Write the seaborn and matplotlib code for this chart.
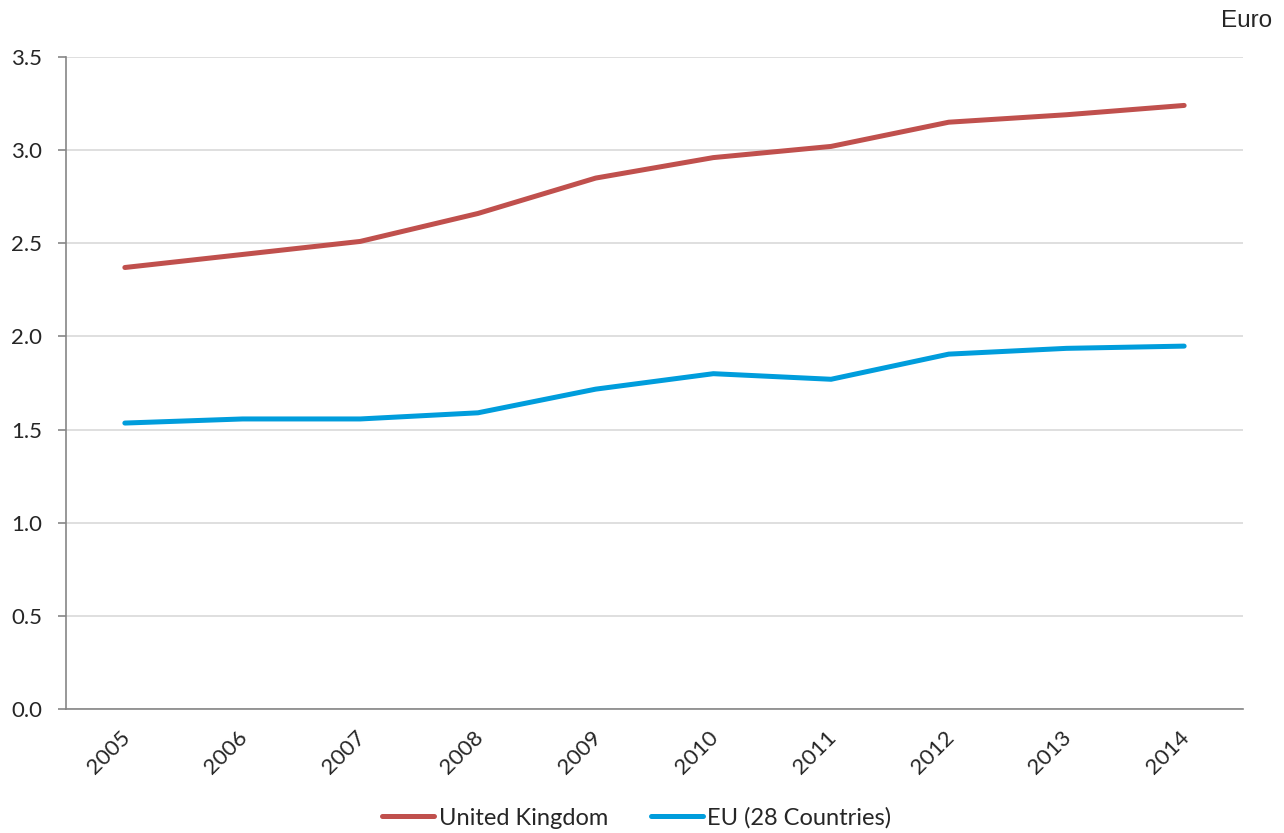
import matplotlib
matplotlib.use("Agg")
import matplotlib.pyplot as plt
import matplotlib.transforms as mtransforms
import numpy as np
import pandas as pd
import seaborn as sns

years = ["2005", "2006", "2007", "2008", "2009", "2010", "2011", "2012", "2013", "2014"]
uk = [2.37, 2.44, 2.51, 2.66, 2.85, 2.96, 3.02, 3.15, 3.19, 3.24]
eu = [1.535, 1.557, 1.557, 1.59, 1.717, 1.80, 1.77, 1.905, 1.936, 1.948]
series_names = ["United Kingdom", "EU (28 Countries)"]
colors = ["#C0504D", "#009DDC"]

df = pd.DataFrame({
    "year": years * 2,
    "value": uk + eu,
    "series": [series_names[0]] * len(years) + [series_names[1]] * len(years),
})

sns.set_theme(style="white")
plt.rcParams["font.family"] = ["Lato", "DejaVu Sans"]

fig = plt.figure(figsize=(12.84, 8.33), dpi=100)
ax = fig.add_axes([66 / 1284, 124 / 833, (1243 - 66) / 1284, (709 - 57) / 833])

sns.lineplot(data=df, x="year", y="value", hue="series", palette=colors,
             linewidth=3.6, ax=ax, sort=False, legend=True,
             solid_capstyle="round")

ax.set_xlim(-0.5, len(years) - 0.5)
ax.set_ylim(0, 3.5)
yt = np.arange(0, 3.51, 0.5)
ax.set_yticks(yt)
ax.set_yticklabels([f"{v:.1f}" for v in yt], fontsize=16)
ax.yaxis.grid(True, color="#D9D9D9", linewidth=1.2)
ax.set_axisbelow(True)

ax.set_xticks(range(len(years)))
ax.set_xticklabels(years, fontsize=16, rotation=45, ha="right", rotation_mode="anchor")
ax.set_xticks(np.arange(-0.5, len(years)), minor=True)
ax.tick_params(axis="x", which="major", length=0, pad=13)
ax.tick_params(axis="x", which="minor", length=6, width=1.2, color="#868686", direction="out")
ax.tick_params(axis="y", length=6, width=1.2, color="#868686", direction="out", left=True, pad=11)

# nudge rotated year labels a little to the left
shift = mtransforms.ScaledTranslation(-5 / 100, 0, fig.dpi_scale_trans)
for lab in ax.get_xticklabels():
    lab.set_transform(lab.get_transform() + shift)

for side in ["top", "right"]:
    ax.spines[side].set_visible(False)
for side in ["left", "bottom"]:
    ax.spines[side].set_color("#868686")
    ax.spines[side].set_linewidth(1.2)

ax.set_xlabel("")
ax.set_ylabel("")

handles, labels = ax.get_legend_handles_labels()
ax.legend(handles, labels, loc="center", bbox_to_anchor=(0.485, -0.167),
          ncol=2, frameon=False, fontsize=17, handlelength=2.2,
          handletextpad=0.2, columnspacing=1.8)

fig.text(1272 / 1284, 1 - 21 / 833, "Euro", ha="right", va="center", fontsize=17.5,
         family=["Liberation Sans", "DejaVu Sans"])

fig.savefig("out.png", dpi=100)
